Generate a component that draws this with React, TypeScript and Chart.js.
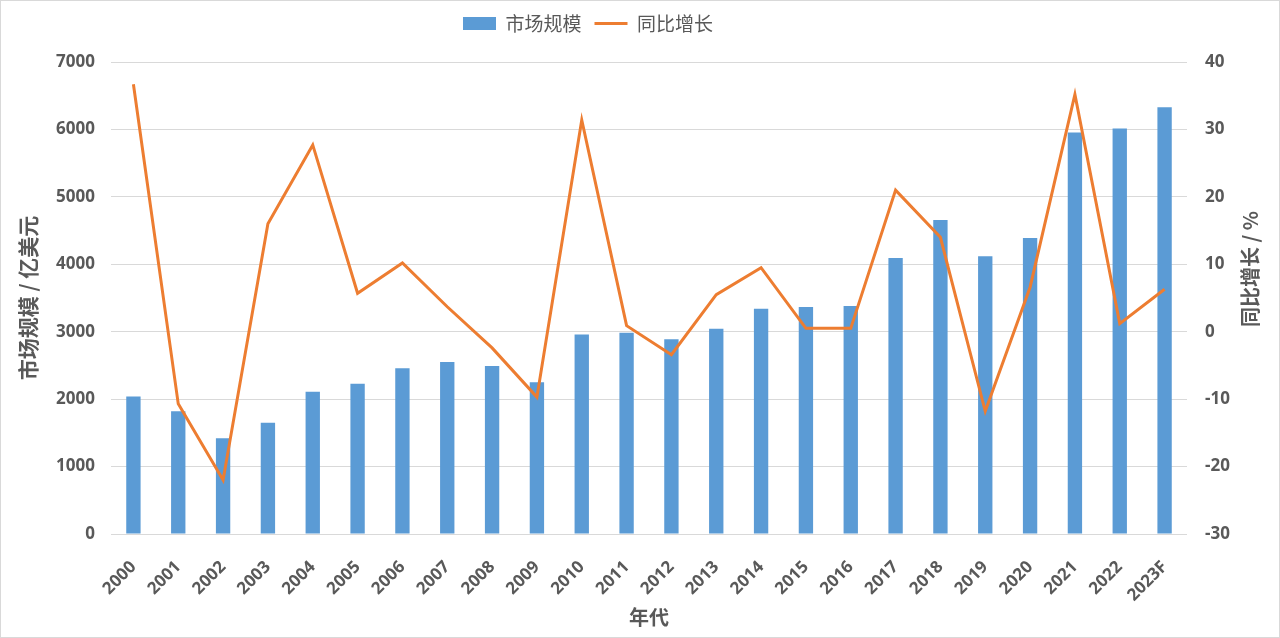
import React, { useEffect, useRef } from 'react';
import Chart from 'chart.js/auto';

// categories and series
const years = [
  '2000', '2001', '2002', '2003', '2004', '2005', '2006', '2007', '2008', '2009', '2010', '2011',
  '2012', '2013', '2014', '2015', '2016', '2017', '2018', '2019', '2020', '2021', '2022', '2023F',
];
const marketSize = [
  2040, 1820, 1420, 1650, 2110, 2230, 2460, 2550, 2490, 2250, 2960, 2985,
  2890, 3045, 3340, 3365, 3380, 4095, 4655, 4120, 4390, 5955, 6015, 6330,
];
const yoyGrowth = [
  36.7, -10.7, -22.0, 16.0, 27.7, 5.7, 10.2, 3.7, -2.4, -9.7, 31.4, 0.9,
  -3.4, 5.5, 9.5, 0.5, 0.5, 21.0, 14.0, -11.8, 6.6, 35.2, 1.2, 6.3,
];

// axis ranges: [min, max, step]
const leftAxisRange = [0, 7000, 1000];
const rightAxisRange = [-30, 40, 10];

const seriesNames = ['市场规模', '同比增长'];
const leftAxisTitle = '市场规模 / 亿美元';
const rightAxisTitle = '同比增长 / %';
const xAxisTitle = '年代';

const TEXT = '#595959';
const GRID = '#d9d9d9';
const BLUE = '#5b9bd5';
const ORANGE = '#ed7d31';
const TICK_FONT = '"Open Sans", "Noto Sans CJK SC", sans-serif';
const CJK_FONT = '"Noto Sans CJK SC", "Open Sans", sans-serif';

const LEGEND_HEIGHT = 61;
const LEGEND_SHIFT = -52;

// legend gets a fixed height and is nudged left like the original
const legendSpacer = {
  id: 'legendSpacer',
  beforeInit(chart: any) {
    const fit = chart.legend.fit;
    chart.legend.fit = function () {
      fit.call(this);
      this.height = LEGEND_HEIGHT;
    };
  },
  afterLayout(chart: any) {
    chart.legend.left += LEGEND_SHIFT;
    chart.legend.right += LEGEND_SHIFT;
  },
};

// right axis title reads bottom-to-top, which chart.js can't do by itself
const rightTitle = {
  id: 'rightTitle',
  afterDraw(chart: any) {
    const ctx = chart.ctx;
    ctx.save();
    ctx.translate(chart.width - 29, 268);
    ctx.rotate(-Math.PI / 2);
    ctx.font = 'bold 20px ' + CJK_FONT;
    ctx.fillStyle = TEXT;
    ctx.textAlign = 'center';
    ctx.textBaseline = 'middle';
    ctx.fillText(rightAxisTitle, 0, 0);
    ctx.restore();
  },
};

function MarketChart() {
  const canvasRef = useRef<HTMLCanvasElement>(null);

  useEffect(() => {
    if (!canvasRef.current) return;

    const chart = new Chart(canvasRef.current, {
      type: 'bar',
      data: {
        labels: years,
        datasets: [
          {
            type: 'bar',
            label: seriesNames[0],
            data: marketSize,
            backgroundColor: BLUE,
            borderWidth: 0,
            categoryPercentage: 1,
            barPercentage: 0.32,
            yAxisID: 'y',
            order: 2,
          },
          {
            type: 'line',
            label: seriesNames[1],
            data: yoyGrowth,
            borderColor: ORANGE,
            backgroundColor: ORANGE,
            borderWidth: 3,
            pointRadius: 0,
            tension: 0,
            yAxisID: 'y1',
            order: 1,
          },
        ],
      },
      options: {
        responsive: true,
        maintainAspectRatio: false,
        animation: false,
        layout: { padding: 0 },
        plugins: {
          tooltip: { enabled: false },
          legend: {
            position: 'top',
            labels: {
              color: TEXT,
              font: { family: CJK_FONT, size: 19 },
              padding: 13,
              usePointStyle: true,
              pointStyleWidth: 33,
              boxHeight: 13,
              generateLabels: (c: any) => {
                const items = Chart.defaults.plugins.legend.labels.generateLabels(c);
                return items
                  .sort((a: any, b: any) => a.datasetIndex - b.datasetIndex)
                  .map((it: any) => ({
                    ...it,
                    pointStyle: it.datasetIndex === 0 ? 'rect' : 'line',
                    lineWidth: it.datasetIndex === 0 ? 0 : 3,
                    fontColor: TEXT,
                  }));
              },
            },
          },
        },
        scales: {
          x: {
            grid: { display: false },
            border: { display: false },
            ticks: {
              color: TEXT,
              font: { family: TICK_FONT, size: 17, weight: 'bold' },
              minRotation: 45,
              maxRotation: 45,
              padding: 15,
              autoSkip: false,
            },
            title: {
              display: true,
              text: xAxisTitle,
              color: TEXT,
              font: { family: CJK_FONT, size: 20, weight: 'bold' },
              padding: { top: 0, bottom: 8 },
            },
            afterFit: (s: any) => {
              s.height = 103;
            },
          },
          y: {
            position: 'left',
            min: leftAxisRange[0],
            max: leftAxisRange[1],
            grid: { color: GRID, lineWidth: 1, drawTicks: false },
            border: { display: false },
            ticks: {
              stepSize: leftAxisRange[2],
              color: TEXT,
              font: { family: TICK_FONT, size: 17, weight: 'bold' },
              padding: 16,
              callback: (v: any) => String(v),
            },
            title: {
              display: true,
              text: leftAxisTitle,
              color: TEXT,
              font: { family: CJK_FONT, size: 21, weight: 'bold' },
              padding: { top: 14, bottom: 0 },
            },
            afterFit: (s: any) => {
              s.width = 110;
            },
          },
          y1: {
            position: 'right',
            min: rightAxisRange[0],
            max: rightAxisRange[1],
            grid: { display: false, drawTicks: false },
            border: { display: false },
            ticks: {
              stepSize: rightAxisRange[2],
              color: TEXT,
              font: { family: TICK_FONT, size: 17, weight: 'bold' },
              padding: 18,
              callback: (v: any) => String(v),
            },
            afterFit: (s: any) => {
              s.width = 92;
            },
          },
        },
      },
      plugins: [legendSpacer, rightTitle],
    } as any);

    return () => {
      chart.destroy();
    };
  }, []);

  return (
    <div
      style={{
        position: 'absolute',
        left: 0,
        top: 0,
        width: 1280,
        height: 638,
        boxSizing: 'border-box',
        border: '1px solid #d9d9d9',
        background: '#fff',
      }}
    >
      <div style={{ position: 'relative', width: '100%', height: '100%' }}>
        <canvas ref={canvasRef}></canvas>
      </div>
    </div>
  );
}

export default function App() {
  return <MarketChart />;
}
